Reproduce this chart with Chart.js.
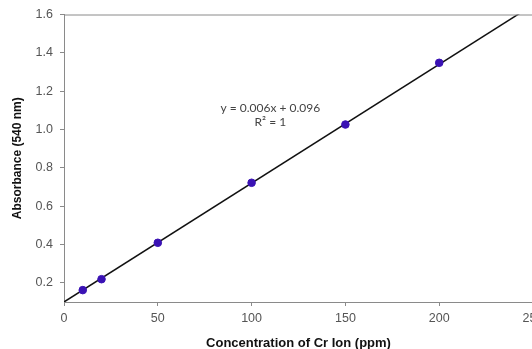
<!DOCTYPE html>
<html>
<head>
<meta charset="utf-8">
<script src="https://cdn.jsdelivr.net/npm/chart.js@4"></script>
<style>
  html, body { margin: 0; padding: 0; background: #fff; overflow: hidden; width: 532px; height: 349px; }
  #wrap { width: 560px; height: 349px; }
</style>
</head>
<body>
<div id="wrap"><canvas id="calib" width="560" height="349"></canvas></div>
<script>
const concentration = [10, 20, 50, 100, 150, 200];
const absorbance = [0.162, 0.219, 0.409, 0.722, 1.026, 1.348];

// trend line ends
const trendX = [0, 250];
const trendY = [0.1, 1.65];

const xTicks = [0, 50, 100, 150, 200, 250];
const yTicks = [0.2, 0.4, 0.6, 0.8, 1.0, 1.2, 1.4, 1.6];

const eqLines = ['y = 0.006x + 0.096', 'R² = 1'];

// equation label + top border
const extras = {
  id: 'extras',
  afterDraw(chart) {
    const { ctx, chartArea, scales } = chart;
    ctx.save();
    ctx.strokeStyle = '#8a8a8a';
    ctx.lineWidth = 1;
    ctx.beginPath();
    ctx.moveTo(chartArea.left, chartArea.top + 0.5);
    ctx.lineTo(chartArea.right, chartArea.top + 0.5);
    ctx.stroke();

    const cx = scales.x.getPixelForValue(110);
    const cy = scales.y.getPixelForValue(1.109);
    ctx.fillStyle = '#444';
    ctx.font = '12px Lato, "Open Sans", sans-serif';
    ctx.textAlign = 'center';
    ctx.textBaseline = 'middle';
    ctx.fillText(eqLines[0], cx, cy);
    ctx.fillText(eqLines[1], cx, cy + 14);
    ctx.restore();
  }
};

const axisColor = '#8a8a8a';
const labelFont = '"Liberation Sans", Arial, sans-serif';

new Chart(document.getElementById('calib'), {
  type: 'scatter',
  data: {
    datasets: [{
      label: 'Trend',
      data: trendX.map((x, i) => ({ x, y: trendY[i] })),
      showLine: true,
      borderColor: '#111',
      borderWidth: 1.5,
      pointRadius: 0,
      order: 2
    }, {
      label: 'Absorbance',
      data: concentration.map((x, i) => ({ x, y: absorbance[i] })),
      backgroundColor: '#3a12b4',
      borderColor: '#3a12b4',
      pointRadius: 3.8,
      order: 1
    }]
  },
  options: {
    responsive: false,
    animation: false,
    layout: { padding: { left: 0, top: 13, right: 27, bottom: 0 } },
    plugins: {
      legend: { display: false },
      tooltip: { enabled: false }
    },
    scales: {
      x: {
        type: 'linear',
        min: 0,
        max: 250,
        afterBuildTicks: s => { s.ticks = xTicks.map(v => ({ value: v })); },
        afterFit: s => { s.height = 47; },
        border: { color: axisColor, width: 1 },
        grid: { drawOnChartArea: false, color: axisColor, tickLength: 4 },
        ticks: {
          color: '#555',
          padding: 5,
          font: { family: labelFont, size: 12.5 }
        },
        title: {
          display: true,
          text: 'Concentration of Cr Ion (ppm)',
          color: '#111',
          padding: { top: 0, bottom: -1 },
          font: { family: labelFont, size: 13, weight: 'bold', lineHeight: 1 }
        }
      },
      y: {
        min: 0.1,
        max: 1.6,
        afterBuildTicks: s => { s.ticks = yTicks.map(v => ({ value: v })); },
        afterFit: s => { s.width = 64; },
        border: { color: axisColor, width: 1 },
        grid: { drawOnChartArea: false, color: axisColor, tickLength: 4 },
        ticks: {
          color: '#555',
          padding: 7,
          callback: v => v.toFixed(1),
          font: { family: labelFont, size: 12.5 }
        },
        title: {
          display: true,
          text: 'Absorbance (540 nm)',
          color: '#111',
          padding: { top: 12, bottom: 0 },
          font: { family: labelFont, size: 12, weight: 'bold', lineHeight: 1 }
        }
      }
    }
  },
  plugins: [extras]
});
</script>
</body>
</html>
